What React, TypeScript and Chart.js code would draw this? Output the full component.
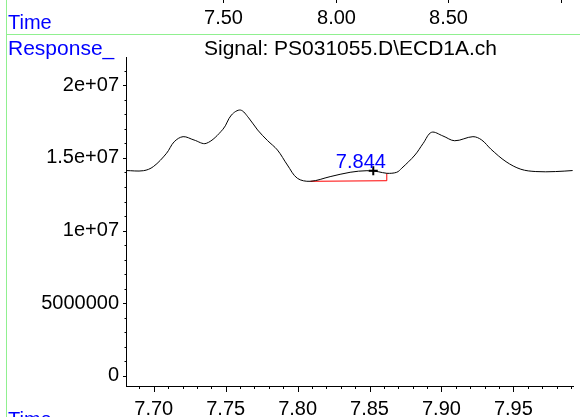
import { useEffect, useRef } from 'react';
import { Chart, registerables } from 'chart.js';

Chart.register(...registerables);

// Chromatogram trace (time in minutes, response)
const times = [
  7.6807, 7.6928, 7.6997, 7.7089, 7.7142, 7.7204, 7.728, 7.7365, 7.7481, 7.754,
  7.7603, 7.766, 7.7722, 7.779, 7.786, 7.7929, 7.7998, 7.8088, 7.8226, 7.8365,
  7.8482, 7.856, 7.862, 7.8689, 7.8724, 7.8816, 7.8873, 7.8931, 7.901, 7.9092,
  7.9219, 7.928, 7.9345, 7.9449, 7.9552, 7.9656, 7.9794, 7.9912,
];
const response = [
  14.13e6, 14.12e6, 14.4e6, 15.32e6, 16.11e6, 16.46e6, 16.23e6, 16.0e6, 16.97e6, 17.95e6,
  18.29e6, 17.75e6, 16.92e6, 16.2e6, 15.54e6, 14.51e6, 13.6e6, 13.39e6, 13.71e6, 14.01e6,
  14.12e6, 14.05e6, 13.94e6, 14.01e6, 14.29e6, 15.2e6, 16.0e6, 16.76e6, 16.51e6, 16.18e6,
  16.46e6, 16.23e6, 15.59e6, 14.74e6, 14.22e6, 14.06e6, 14.06e6, 14.13e6,
];

// Integration baseline (red)
const baselineTimes = [7.8088, 7.862, 7.862];
const baselineResp = [13.39e6, 13.43e6, 13.94e6];

// Peak marker
const peakTimes = [7.8526];
const peakResp = [14.12e6];
const peakLabel = '7.844';

// Axes
const xMin = 7.6807;
const xMax = 7.9918;
const yMin = -0.69e6;
const yMax = 21.94e6;
const xTickValues = [7.7, 7.75, 7.8, 7.85, 7.9, 7.95];
const xTickLabels = ['7.70', '7.75', '7.80', '7.85', '7.90', '7.95'];
const xMinorValues = [
  7.69, 7.71, 7.72, 7.73, 7.74, 7.76, 7.77, 7.78, 7.79, 7.81, 7.82, 7.83, 7.84,
  7.86, 7.87, 7.88, 7.89, 7.91, 7.92, 7.93, 7.94, 7.96, 7.97, 7.98, 7.99,
];
const yTickValues = [0, 5e6, 1e7, 1.5e7, 2e7];
const yTickLabels = ['0', '5000000', '1e+07', '1.5e+07', '2e+07'];
const yMinorValues = [
  1e6, 2e6, 3e6, 4e6, 6e6, 7e6, 8e6, 9e6, 11e6, 12e6, 13e6, 14e6,
  16e6, 17e6, 18e6, 19e6, 21e6,
];

// Upper (cut-off) panel axis
const topAxisTimes = [7.5, 8.0, 8.5, 9.0];
const topAxisLabels = ['7.50', '8.00', '8.50', ''];

const FONT = '"Liberation Sans", Arial, sans-serif';

export default function App() {
  const ref = useRef<HTMLCanvasElement | null>(null);

  useEffect(() => {
    if (!ref.current) return;

    const decor = {
      id: 'decor',
      afterDraw(chart: any) {
        const ctx = chart.ctx as CanvasRenderingContext2D;
        const xs = chart.scales.x;
        const ys = chart.scales.y;
        const area = chart.chartArea;
        ctx.save();

        // green frame lines
        ctx.strokeStyle = '#90f090';
        ctx.lineWidth = 1;
        ctx.beginPath();
        ctx.moveTo(6.5, 0);
        ctx.lineTo(6.5, 417);
        ctx.moveTo(6, 34.5);
        ctx.lineTo(580, 34.5);
        ctx.stroke();

        // blue labels
        ctx.fillStyle = '#0000ff';
        ctx.textAlign = 'left';
        ctx.textBaseline = 'alphabetic';
        ctx.font = `20px ${FONT}`;
        ctx.fillText('Time', 8, 29);
        ctx.fillText('Time', 8, 426);
        ctx.font = `21px ${FONT}`;
        ctx.fillText('Response_', 8, 55);

        // title
        ctx.fillStyle = '#000000';
        ctx.fillText('Signal: PS031055.D\\ECD1A.ch', 204, 55);

        // upper panel axis remnants
        ctx.font = `20px ${FONT}`;
        ctx.textAlign = 'center';
        ctx.strokeStyle = '#000000';
        topAxisTimes.forEach((t, i) => {
          const px = Math.round(223 + (t - 7.5) * 225) + 0.5;
          ctx.beginPath();
          ctx.moveTo(px, 0);
          ctx.lineTo(px, 3);
          ctx.stroke();
          if (topAxisLabels[i]) ctx.fillText(topAxisLabels[i], px, 24);
        });

        // x ticks
        const yb = area.bottom;
        ctx.beginPath();
        xTickValues.forEach((v) => {
          const px = Math.round(xs.getPixelForValue(v)) + 0.5;
          ctx.moveTo(px, yb);
          ctx.lineTo(px, yb + 6);
        });
        xMinorValues.forEach((v) => {
          const px = Math.round(xs.getPixelForValue(v)) + 0.5;
          ctx.moveTo(px, yb);
          ctx.lineTo(px, yb + 3);
        });
        // y ticks
        const xl = area.left;
        yTickValues.forEach((v) => {
          const py = Math.round(ys.getPixelForValue(v)) + 0.5;
          ctx.moveTo(xl - 3, py);
          ctx.lineTo(xl, py);
        });
        yMinorValues.forEach((v) => {
          const py = Math.round(ys.getPixelForValue(v)) + 0.5;
          ctx.moveTo(xl - 1.5, py);
          ctx.lineTo(xl, py);
        });
        ctx.stroke();

        // peak label
        ctx.fillStyle = '#0000ff';
        ctx.font = `20px ${FONT}`;
        ctx.textAlign = 'center';
        ctx.fillText(
          peakLabel,
          xs.getPixelForValue(Number(peakLabel)),
          ys.getPixelForValue(peakResp[0]) - 3,
        );
        ctx.restore();
      },
    };

    const chart = new Chart(ref.current, {
      type: 'scatter',
      data: {
        datasets: [
          {
            data: times.map((t, i) => ({ x: t, y: response[i] })),
            showLine: true,
            borderColor: '#000000',
            borderWidth: 1,
            pointRadius: 0,
            tension: 0.35,
          },
          {
            data: baselineTimes.map((t, i) => ({ x: t, y: baselineResp[i] })),
            showLine: true,
            borderColor: '#ff0000',
            borderWidth: 1,
            pointRadius: 0,
            tension: 0,
          },
          {
            data: peakTimes.map((t, i) => ({ x: t, y: peakResp[i] })),
            showLine: false,
            pointStyle: 'cross',
            pointRadius: 4.5,
            borderColor: '#000000',
            borderWidth: 2,
          },
        ],
      },
      options: {
        animation: false,
        responsive: false,
        devicePixelRatio: 1,
        layout: { padding: { top: 57, right: 2, left: 0, bottom: 0 } },
        plugins: {
          legend: { display: false },
          tooltip: { enabled: false },
          title: { display: false },
        },
        scales: {
          x: {
            type: 'linear',
            min: xMin,
            max: xMax,
            afterBuildTicks: (s: any) => {
              s.ticks = xTickValues.map((v) => ({ value: v }));
            },
            afterFit: (s: any) => {
              s.height = 31;
            },
            grid: { display: false, drawTicks: false },
            border: { display: true, color: '#000000', width: 1 },
            ticks: {
              color: '#000000',
              font: { family: FONT, size: 20 },
              padding: 11,
              maxRotation: 0,
              autoSkip: false,
              callback: (v: any) => {
                const i = xTickValues.findIndex((t) => Math.abs(t - v) < 1e-6);
                return i >= 0 ? xTickLabels[i] : '';
              },
            },
          },
          y: {
            type: 'linear',
            min: yMin,
            max: yMax,
            afterBuildTicks: (s: any) => {
              s.ticks = yTickValues.map((v) => ({ value: v }));
            },
            afterFit: (s: any) => {
              s.width = 126;
            },
            grid: { display: false, drawTicks: false },
            border: { display: true, color: '#000000', width: 1 },
            ticks: {
              color: '#000000',
              font: { family: FONT, size: 20 },
              padding: 7,
              autoSkip: false,
              callback: (v: any) => {
                const i = yTickValues.findIndex((t) => Math.abs(t - v) < 1);
                return i >= 0 ? yTickLabels[i] : '';
              },
            },
          },
        },
      },
      plugins: [decor],
    } as any);

    return () => chart.destroy();
  }, []);

  return (
    <div style={{ position: 'fixed', left: 0, top: 0, width: 580, height: 417, background: '#ffffff' }}>
      <canvas ref={ref} width={580} height={417} />
    </div>
  );
}
